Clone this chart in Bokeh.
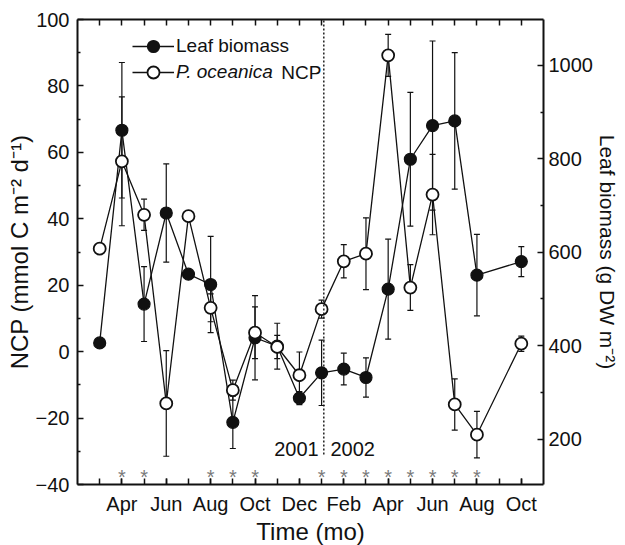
from bokeh.plotting import figure
from bokeh.models import (Range1d, LinearAxis, FixedTicker, ColumnDataSource,
                          Legend, LegendItem, Label)
from bokeh.core.properties import value
from bokeh.embed import file_html
from bokeh.resources import INLINE

# ---------------- data ----------------
# month index: 1 = Mar 2001 ... 11 = Jan 2002 ... 20 = Oct 2002
months = [1, 2, 3, 4, 5, 6, 7, 8, 9, 10, 11, 12, 13, 14, 15, 16, 17, 18, 20]
ncp = [31.0, 57.3, 41.2, -15.6, 40.8, 13.2, -11.6, 5.7, 1.4, -7.1,
       12.8, 27.2, 29.5, 89.2, 19.3, 47.3, -15.9, -25.0, 2.4]
ncp_err = [0, 19.4, 4.7, 15.9, 0, 4.2, 3.0, 7.8, 3.5, 7.0,
           2.7, 5.0, 10.8, 6.3, 6.9, 12.1, 7.7, 7.0, 2.3]
leaf = [406, 861, 489, 684, 553, 531, 236, 417, 399, 288,
        342, 350, 332, 521, 799, 871, 881, 551, 580]
leaf_err = [0, 145, 80, 105, 0, 103, 56, 90, 49, 14,
            70, 34, 42, 107, 143, 181, 146, 87, 32]
star_months = [2, 3, 6, 7, 8, 11, 12, 13, 14, 15, 16, 17, 18]

x_tick_pos = [2, 4, 6, 8, 10, 12, 14, 16, 18, 20]
x_tick_labels = ["Apr", "Jun", "Aug", "Oct", "Dec", "Feb", "Apr", "Jun", "Aug", "Oct"]
x_minor = list(range(1, 21))
ncp_ticks = [-40, -20, 0, 20, 40, 60, 80, 100]
ncp_tick_labels = ["\u221240", "\u221220", "0", "20", "40", "60", "80", "100"]
ncp_minor = [-30, -10, 10, 30, 50, 70, 90]
bio_ticks = [200, 400, 600, 800, 1000]
bio_minor = [300, 500, 700, 900]

year_break = 11.1

FONT = "Liberation Sans"
INK = "#111111"

p = figure(frame_width=466, frame_height=465,
           x_range=Range1d(0, 21), y_range=Range1d(-40, 100),
           output_backend="svg", toolbar_location=None,
           min_border_left=77, min_border_right=72, min_border_top=19,
           min_border_bottom=53, background_fill_color="white",
           border_fill_color="white", outline_line_color=None)
p.extra_y_ranges = {"bio": Range1d(103, 1098)}
p.grid.visible = False

def style_axis(ax, major_in=6, minor_in=3, title_size="24px"):
    ax.axis_line_width = 2
    ax.axis_line_color = INK
    ax.major_tick_line_color = INK
    ax.minor_tick_line_color = INK
    ax.major_tick_line_width = 1.5
    ax.minor_tick_line_width = 1.5
    ax.major_tick_in = major_in
    ax.major_tick_out = 0
    ax.minor_tick_in = minor_in
    ax.minor_tick_out = 0
    ax.major_label_text_font = FONT
    ax.major_label_text_font_size = "20px"
    ax.major_label_text_color = INK
    ax.axis_label_text_font = FONT
    ax.axis_label_text_font_size = title_size
    ax.axis_label_text_font_style = "normal"
    ax.axis_label_text_color = INK

# bottom
xa = p.xaxis[0]
xa.ticker = FixedTicker(ticks=x_tick_pos, minor_ticks=x_minor)
xa.major_label_overrides = {k: v for k, v in zip(x_tick_pos, x_tick_labels)}
style_axis(xa, 6, 6, "24px")
xa.axis_label = "Time (mo)"
xa.major_label_standoff = 8
xa.axis_label_standoff = 0

# left
ya = p.yaxis[0]
ya.ticker = FixedTicker(ticks=ncp_ticks, minor_ticks=ncp_minor)
ya.major_label_overrides = {k: v for k, v in zip(ncp_ticks, ncp_tick_labels)}
style_axis(ya, title_size="24px")
ya.axis_label = "NCP (mmol C m\u207b\u00b2 d\u207b\u00b9)"
ya.major_label_standoff = 8
ya.axis_label_standoff = 0

# right
ra = LinearAxis(y_range_name="bio", ticker=FixedTicker(ticks=bio_ticks, minor_ticks=bio_minor))
style_axis(ra, title_size="21px")
ra.axis_label = "Leaf biomass (g DW m\u207b\u00b2)"
ra.major_label_standoff = 5
ra.axis_label_standoff = 0
p.add_layout(ra, "right")

# top (tick marks only)
ta = LinearAxis(ticker=FixedTicker(ticks=[], minor_ticks=x_minor))
style_axis(ta, 6, 6)
ta.major_label_standoff = 0
p.add_layout(ta, "above")

# ---------------- error bars ----------------
def err_source(xs, ys, es):
    d = dict(x=[], lo=[], hi=[])
    for x, y, e in zip(xs, ys, es):
        if e > 0:
            d["x"].append(x); d["lo"].append(y - e); d["hi"].append(y + e)
    return ColumnDataSource(d)

leaf_es = err_source(months, leaf, leaf_err)
ncp_es = err_source(months, ncp, ncp_err)

for src, rn in ((leaf_es, "bio"), (ncp_es, "default")):
    p.segment(x0="x", y0="lo", x1="x", y1="hi", source=src, y_range_name=rn,
              line_color=INK, line_width=1.2)
    p.scatter(x="x", y="lo", source=src, y_range_name=rn, marker="dash",
              size=6, line_color=INK, line_width=1.2)
    p.scatter(x="x", y="hi", source=src, y_range_name=rn, marker="dash",
              size=6, line_color=INK, line_width=1.2)

# ---------------- series ----------------
leaf_src = ColumnDataSource(dict(x=months, y=leaf))
ncp_src = ColumnDataSource(dict(x=months, y=ncp))

l1 = p.line("x", "y", source=leaf_src, y_range_name="bio", line_color=INK, line_width=1.3)
m1 = p.scatter("x", "y", source=leaf_src, y_range_name="bio", size=12,
               fill_color=INK, line_color=INK, line_width=1.2)
l2 = p.line("x", "y", source=ncp_src, line_color=INK, line_width=1.3)
m2 = p.scatter("x", "y", source=ncp_src, size=12, fill_color="white",
               line_color=INK, line_width=1.8)

# year divider
p.segment(x0=[year_break], y0=[-31], x1=[year_break], y1=[100],
          line_color=INK, line_width=1.4, line_dash="2 2")
p.add_layout(Label(x=10.87, y=-29.4, text="2001", text_align="right",
                   text_baseline="middle", text_font=FONT,
                   text_font_size="20px", text_color=INK))
p.add_layout(Label(x=11.4, y=-29.4, text="2002", text_align="left",
                   text_baseline="middle", text_font=FONT,
                   text_font_size="20px", text_color=INK))

# significance asterisks
star_src = ColumnDataSource(dict(x=star_months, y=[-36.2] * len(star_months),
                                 t=["*"] * len(star_months)))
p.text(x="x", y="y", text="t", source=star_src, text_align="center",
       text_baseline="middle", y_offset=5, text_font=value(FONT),
       text_font_size="20px", text_color="#7a7a7a")

# ---------------- legend ----------------
common = dict(margin=0, padding=0, glyph_width=42, glyph_height=30,
              label_height=30, label_standoff=2, border_line_color=None,
              background_fill_alpha=0, label_text_font=FONT,
              label_text_font_size="19px", label_text_color=INK)
leg1 = Legend(items=[LegendItem(label="Leaf biomass", renderers=[l1, m1])],
              location=(55, 423), **common)
leg2 = Legend(items=[LegendItem(label="P. oceanica", renderers=[l2, m2])],
              location=(55, 397), label_text_font_style="italic", **common)
p.add_layout(leg1, "center")
p.add_layout(leg2, "center")

p.add_layout(Label(x=9.18, y=84.1, text="NCP", text_baseline="middle",
                   text_font=FONT, text_font_size="19px", text_color=INK))

open("out.html", "w").write(file_html(p, INLINE))
